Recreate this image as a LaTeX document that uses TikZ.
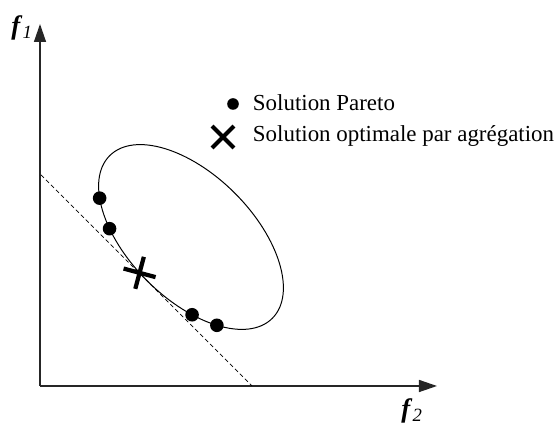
\documentclass[tikz,border=0pt]{standalone}
\usepackage{fontspec}
\setmainfont{Liberation Serif}
\usepackage{tikz}
\usetikzlibrary{positioning,arrows.meta,calc,shapes.misc}

\begin{document}
\begin{tikzpicture}[
      x=0.025cm, y=0.025cm,
      axis/.style={draw=black!85, line width=1pt, -{Triangle[length=0.45cm,width=0.3cm]}},
      tangent/.style={draw=black, line width=0.5pt, dash pattern=on 3pt off 2pt},
      front/.style={draw=black, line width=0.7pt},
      pareto/.style={circle, fill=black, inner sep=0pt, minimum size=0.34cm},
      aggr/.style={cross out, draw=black, line width=3pt, inner sep=0pt, minimum size=0.48cm},
      axlab/.style={font=\fontsize{19}{22}\selectfont},
      leg/.style={font=\fontsize{16.3}{19}\selectfont, anchor=west}
    ]
      \useasboundingbox (0,0) rectangle (560,425);

      % axes
      \coordinate (O) at (40,39);
      \coordinate (ytip) at (40,401);
      \coordinate (xtip) at (437,39);
      \draw[axis] (O) -- (ytip);
      \draw[axis] (O) -- (xtip);
      \node[axlab] (f1) at (22,397) {\textbf{\textit{f}}\textit{\textsubscript{1}}};
      \node[axlab] (f2) at (412,14) {\textbf{\textit{f}}\textit{\textsubscript{2}}};

      % aggregation line, tangent to the front
      \coordinate (t1) at (41,250);
      \coordinate (t2) at (252,39);
      \draw[tangent] (t1) -- (t2);

      % front and solutions
      \coordinate (c) at (191,188);
      \begin{scope}[shift={(c)}, rotate=-45]
        \draw[front] (0,0) ellipse [x radius=115, y radius=62];
        \foreach \t [count=\i] in {216.8,236.5,299,314.6} {
          \node[pareto] (p\i) at (\t:115 and 62) {};
        }
        \node[aggr, rotate=30] (agg) at (264.5:115 and 62) {};
      \end{scope}

      % legend
      \node[pareto, minimum size=0.29cm] (lp) at (233,321) {};
      \node[leg] (lpt) at (248,322) {Solution Pareto};
      \node[aggr, minimum size=0.44cm] (la) at (223,288) {};
      \node[leg] (lat) at (248,289) {Solution optimale par agrégation};
\end{tikzpicture}
\end{document}
